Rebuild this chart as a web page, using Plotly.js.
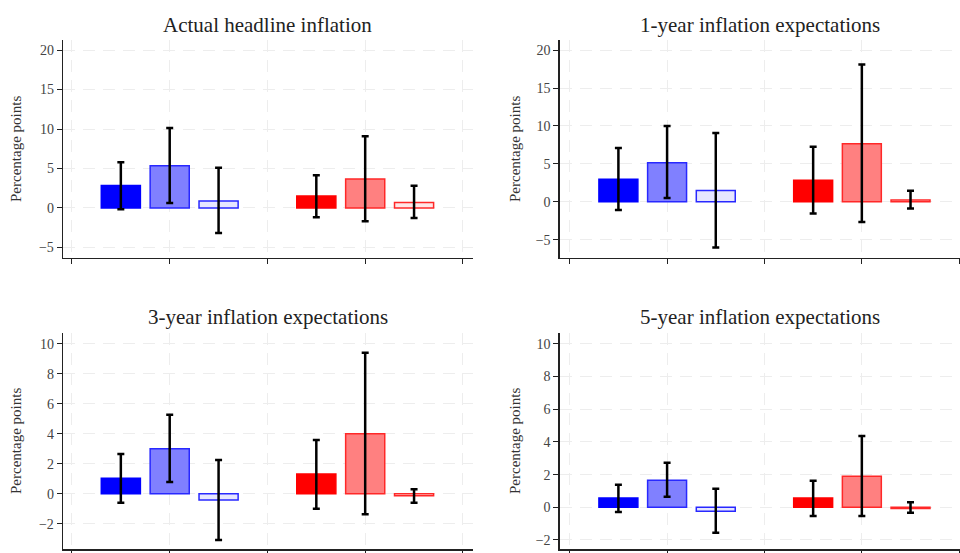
<!DOCTYPE html>
<html>
<head>
<meta charset="utf-8">
<script src="https://cdn.plot.ly/plotly-3.0.1.min.js"></script>
<style>html,body{margin:0;padding:0;background:#fff}#chart{width:960px;height:553px}</style>
</head>
<body>
<div id="chart"></div>
<script>
// ---- data ----
const positions = [0.5, 1, 1.5, 2.5, 3, 3.5];
const panelTitles = ["Actual headline inflation", "1-year inflation expectations",
                     "3-year inflation expectations", "5-year inflation expectations"];
const yTitle = "Percentage points";

const headline    = [2.85, 5.34, 0.89, 1.52, 3.68, 0.69];
const headline_lo = [-0.17, 0.64, -3.18, -1.18, -1.69, -1.27];
const headline_hi = [5.80, 10.13, 5.08, 4.15, 9.07, 2.80];

const exp1    = [2.96, 5.15, 1.50, 2.83, 7.66, 0.22];
const exp1_lo = [-1.10, 0.49, -6.03, -1.54, -2.68, -0.88];
const exp1_hi = [7.09, 10.00, 9.07, 7.27, 18.10, 1.45];

const exp3    = [1.03, 3.00, -0.42, 1.31, 4.00, -0.13];
const exp3_lo = [-0.60, 0.78, -3.09, -1.00, -1.38, -0.60];
const exp3_hi = [2.65, 5.27, 2.25, 3.58, 9.40, 0.29];

const exp5    = [0.57, 1.65, -0.24, 0.57, 1.90, -0.08];
const exp5_lo = [-0.29, 0.65, -1.55, -0.53, -0.53, -0.33];
const exp5_hi = [1.38, 2.73, 1.14, 1.63, 4.36, 0.31];

const xTicks = [0, 1, 2, 3, 4];
const yTicksTop = [-5, 0, 5, 10, 15, 20];
const yTicksBottom = [-2, 0, 2, 4, 6, 8, 10];

// ---- styles ----
const fills = ["rgb(0,0,255)", "rgb(128,128,255)", "rgb(230,230,255)",
               "rgb(255,0,0)", "rgb(255,128,128)", "rgb(255,230,230)"];
const outlines = ["rgb(0,0,255)", "rgb(40,40,255)", "rgb(40,40,255)",
                  "rgb(255,0,0)", "rgb(255,40,40)", "rgb(255,40,40)"];

const series = [
  {v: headline, lo: headline_lo, hi: headline_hi},
  {v: exp1, lo: exp1_lo, hi: exp1_hi},
  {v: exp3, lo: exp3_lo, hi: exp3_hi},
  {v: exp5, lo: exp5_lo, hi: exp5_hi}
];

const traces = series.map((s, i) => ({
  type: "bar",
  x: positions,
  y: s.v,
  width: 0.4,
  xaxis: i === 0 ? "x" : "x" + (i + 1),
  yaxis: i === 0 ? "y" : "y" + (i + 1),
  marker: {color: fills, line: {color: outlines, width: 1.5}},
  error_y: {
    type: "data", symmetric: false,
    array: s.hi.map((h, k) => h - s.v[k]),
    arrayminus: s.v.map((v, k) => v - s.lo[k]),
    color: "#000", thickness: 2.5, width: 3.5
  },
  showlegend: false,
  hoverinfo: "y"
}));

const font = "Liberation Serif";
function xa(domain, range) {
  return {domain: domain, range: range, tickvals: xTicks, showticklabels: false,
    ticks: "outside", ticklen: 5, tickcolor: "#222", showline: true, linecolor: "#222", linewidth: 1.3,
    showgrid: true, gridcolor: "#ededed", griddash: "12px,8px", gridwidth: 1, zeroline: false, fixedrange: true};
}
function ya(domain, range, ticks, anchor) {
  return {domain: domain, range: range, tickvals: ticks, anchor: anchor,
    ticks: "outside", ticklen: 5, tickcolor: "#222", showline: true, linecolor: "#222", linewidth: 1.3,
    tickfont: {family: font, size: 14, color: "#444"},
    showgrid: true, gridcolor: "#ededed", griddash: "12px,8px", gridwidth: 1, zeroline: false, fixedrange: true};
}

const dTopY = [0.534, 0.928], dBotY = [0.0067, 0.397];
const dLeftX = [0.0656, 0.4924], dRightX = [0.583, 1.0];

const layout = {
  width: 960, height: 553,
  margin: {l: 0, r: 0, t: 0, b: 0},
  paper_bgcolor: "#fff", plot_bgcolor: "#fff",
  font: {family: font},
  bargap: 0,
  xaxis: Object.assign(xa(dLeftX, [-0.092, 4.1]), {anchor: "y"}),
  yaxis: ya(dTopY, [-6.3, 21.3], yTicksTop, "x"),
  xaxis2: Object.assign(xa(dRightX, [-0.103, 4.008]), {anchor: "y2"}),
  yaxis2: ya(dTopY, [-7.38, 21.36], yTicksTop, "x2"),
  xaxis3: Object.assign(xa(dLeftX, [-0.092, 4.1]), {anchor: "y3"}),
  yaxis3: ya(dBotY, [-3.71, 10.69], yTicksBottom, "x3"),
  xaxis4: Object.assign(xa(dRightX, [-0.103, 4.008]), {anchor: "y4"}),
  yaxis4: ya(dBotY, [-2.57, 10.64], yTicksBottom, "x4"),
  annotations: [
    {text: panelTitles[0], x: 0.279, y: 1 - 25/553},
    {text: panelTitles[1], x: 0.7915, y: 1 - 25/553},
    {text: panelTitles[2], x: 0.279, y: 1 - 317/553},
    {text: panelTitles[3], x: 0.7915, y: 1 - 317/553}
  ].map(a => Object.assign(a, {xref: "paper", yref: "paper", showarrow: false,
      xanchor: "center", yanchor: "middle", font: {family: font, size: 21, color: "#222"}}))
   .concat([
    {x: 16/960, y: 1 - 149/553},
    {x: 515/960, y: 1 - 149/553},
    {x: 16/960, y: 1 - 441/553},
    {x: 515/960, y: 1 - 441/553}
  ].map(a => Object.assign(a, {text: yTitle, xref: "paper", yref: "paper", showarrow: false,
      textangle: -90, xanchor: "center", yanchor: "middle", font: {family: font, size: 15, color: "#333"}})))
};

Plotly.newPlot("chart", traces, layout, {staticPlot: true, displayModeBar: false});
</script>
</body>
</html>
